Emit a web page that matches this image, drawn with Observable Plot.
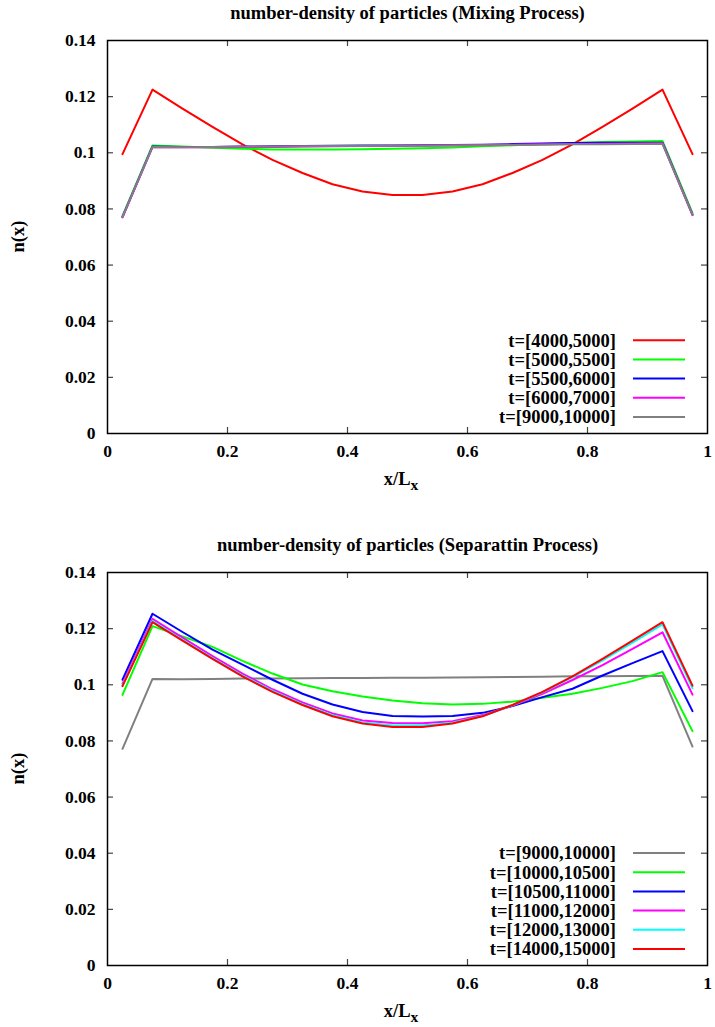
<!DOCTYPE html>
<html><head><meta charset="utf-8">
<script src="https://cdn.jsdelivr.net/npm/d3@7"></script>
<script src="https://cdn.jsdelivr.net/npm/@observablehq/plot@0.6"></script>
<style>
body{margin:0;background:#fff;}
#wrap{position:relative;width:715px;height:1027px;background:#fff;}
#wrap svg{position:absolute;left:0;}
</style></head><body><div id="wrap"></div>
<script>
// ---- data ----
const xPos = [0.025,0.075,0.125,0.175,0.225,0.275,0.325,0.375,0.425,0.475,0.525,0.575,0.625,0.675,0.725,0.775,0.825,0.875,0.925,0.975];
const xTicks = [0,0.2,0.4,0.6,0.8,1];
const xTickLabels = ["0","0.2","0.4","0.6","0.8","1"];
const yTicks = [0,0.02,0.04,0.06,0.08,0.1,0.12,0.14];
const yTickLabels = ["0","0.02","0.04","0.06","0.08","0.1","0.12","0.14"];

const mixTitle = "number-density of particles (Mixing Process)";
const mixNames = ["t=[4000,5000]","t=[5000,5500]","t=[5500,6000]","t=[6000,7000]","t=[9000,10000]"];
const mixColors = ["#ff0000","#00ff00","#0000ff","#ff00ff","#808080"];
const mix4000 = [0.0995,0.1225,0.1157,0.1092,0.1030,0.0975,0.0928,0.0888,0.0862,0.0850,0.0850,0.0862,0.0888,0.0928,0.0975,0.1030,0.1092,0.1157,0.1225,0.0995];
const mix5000 = [0.0775,0.1026,0.1022,0.1018,0.1014,0.1012,0.1012,0.1012,0.1013,0.1014,0.1016,0.1019,0.1023,0.1027,0.1031,0.1035,0.1038,0.1040,0.1042,0.0785];
const mix5500 = [0.0772,0.1022,0.1021,0.1021,0.1022,0.1023,0.1024,0.1025,0.1026,0.1026,0.1027,0.1028,0.1029,0.1031,0.1033,0.1035,0.1036,0.1036,0.1036,0.0780];
const mix6000 = [0.0770,0.1021,0.1020,0.1020,0.1021,0.1021,0.1022,0.1023,0.1024,0.1025,0.1026,0.1027,0.1028,0.1029,0.1030,0.1031,0.1032,0.1033,0.1034,0.0778];
const mix9000 = [0.0772,0.1021,0.1020,0.1021,0.1022,0.1022,0.1023,0.1024,0.1024,0.1025,0.1025,0.1026,0.1027,0.1028,0.1029,0.1030,0.1030,0.1031,0.1032,0.0780];

const sepTitle = "number-density of particles (Separattin Process)";
const sepNames = ["t=[9000,10000]","t=[10000,10500]","t=[10500,11000]","t=[11000,12000]","t=[12000,13000]","t=[14000,15000]"];
const sepColors = ["#808080","#00ff00","#0000ff","#ff00ff","#00ffff","#ff0000"];
const sep9000  = [0.0772,0.1021,0.1020,0.1021,0.1022,0.1022,0.1023,0.1024,0.1024,0.1025,0.1025,0.1026,0.1027,0.1028,0.1029,0.1030,0.1030,0.1031,0.1032,0.0780];
const sep10000 = [0.0964,0.1209,0.1172,0.1135,0.1085,0.1040,0.1001,0.0977,0.0958,0.0944,0.0934,0.0930,0.0932,0.0940,0.0954,0.0968,0.0989,0.1013,0.1045,0.0835];
const sep10500 = [0.1018,0.1253,0.1188,0.1125,0.1072,0.1018,0.0968,0.0930,0.0903,0.0889,0.0887,0.0889,0.0900,0.0924,0.0956,0.0986,0.1033,0.1077,0.1120,0.0906];
const sep11000 = [0.1004,0.1235,0.1168,0.1102,0.1040,0.0984,0.0937,0.0898,0.0873,0.0864,0.0863,0.0870,0.0892,0.0926,0.0968,0.1017,0.1070,0.1128,0.1187,0.0965];
const sep12000 = [0.0998,0.1227,0.1160,0.1095,0.1033,0.0978,0.0931,0.0892,0.0866,0.0855,0.0855,0.0865,0.0889,0.0927,0.0973,0.1027,0.1087,0.1150,0.1215,0.0988];
const sep14000 = [0.0995,0.1223,0.1157,0.1092,0.1030,0.0975,0.0928,0.0888,0.0862,0.0850,0.0850,0.0862,0.0888,0.0928,0.0975,0.1030,0.1092,0.1157,0.1223,0.0997];

// ---- drawing ----
const FONT = "'Liberation Serif', 'Times New Roman', serif";
const FS = 17.5;   // tick labels
const FT = 18.5;   // title, legend, axis labels

function panel(topOffset, title, names, colors, values) {
  const W = 715, H = 495, mt = 40, mb = 62, ml = 107, mr = 8;
  const frameH = H - mt - mb, frameW = W - ml - mr;
  const data = names.flatMap((n, i) => values[i].map((v, j) => ({series: n, x: xPos[j], y: v})));
  const fmtX = d => xTickLabels[xTicks.indexOf(d)];
  const fmtY = d => yTickLabels[yTicks.indexOf(d)];
  const svg = Plot.plot({
    width: W, height: H, marginTop: mt, marginBottom: mb, marginLeft: ml, marginRight: mr,
    style: {fontFamily: FONT, fontSize: FS + "px", fontWeight: "bold", color: "#000", background: "#fff", overflow: "visible"},
    x: {domain: [0, 1]},
    y: {domain: [0, 0.14]},
    color: {domain: names, range: colors},
    marks: [
      Plot.axisX({ticks: xTicks, tickSize: 0, tickPadding: 11, tickFormat: fmtX, label: null, fontSize: FS}),
      Plot.axisY({ticks: yTicks, tickSize: 0, tickPadding: 12, tickFormat: fmtY, label: null, fontSize: FS}),
      Plot.tickX(xTicks.slice(1, -1), {x: d => d, insetTop: frameH - 6, stroke: "#444", strokeWidth: 1.2}),
      Plot.tickX(xTicks.slice(1, -1), {x: d => d, insetBottom: frameH - 6, stroke: "#444", strokeWidth: 1.2}),
      Plot.tickY(yTicks.slice(1, -1), {y: d => d, insetRight: frameW - 6, stroke: "#444", strokeWidth: 1.2}),
      Plot.tickY(yTicks.slice(1, -1), {y: d => d, insetLeft: frameW - 6, stroke: "#444", strokeWidth: 1.2}),
      Plot.line(data, {x: "x", y: "y", z: "series", stroke: "series", strokeWidth: 2}),
      Plot.frame({stroke: "#000", strokeWidth: 1.5}),
      Plot.text([title], {frameAnchor: "top", dy: -22, lineAnchor: "bottom", fontSize: FT, fontWeight: "bold"})
    ]
  });
  svg.style.top = topOffset + "px";
  const s = d3.select(svg);
  // y label
  s.append("text").attr("transform", "translate(24," + (mt + frameH / 2) + ") rotate(-90)")
    .attr("text-anchor", "middle").attr("font-family", FONT).attr("font-size", FT).attr("font-weight", "bold")
    .attr("fill", "#000").text("n(x)");
  // x label
  const xl = s.append("text").attr("x", ml + frameW / 2 - 6).attr("y", 485)
    .attr("text-anchor", "middle").attr("font-family", FONT).attr("font-size", FT).attr("font-weight", "bold").attr("fill", "#000");
  xl.append("tspan").text("x/L");
  xl.append("tspan").attr("dy", 5).attr("font-size", FT - 3).text("x");
  // legend
  const rowH = 19.2, n = names.length;
  const lg = s.append("g");
  names.forEach((nm, i) => {
    const y = mt + frameH - 16 - (n - 1 - i) * rowH;
    lg.append("text").attr("x", 616).attr("y", y).attr("dy", "0.35em").attr("text-anchor", "end")
      .attr("font-family", FONT).attr("font-size", FT).attr("font-weight", "bold").attr("fill", "#000").text(nm);
    lg.append("line").attr("x1", 633).attr("x2", 685).attr("y1", y).attr("y2", y)
      .attr("stroke", colors[i]).attr("stroke-width", 2);
  });
  document.getElementById("wrap").appendChild(svg);
}

panel(0, mixTitle, mixNames, mixColors, [mix4000, mix5000, mix5500, mix6000, mix9000]);
panel(532, sepTitle, sepNames, sepColors, [sep9000, sep10000, sep10500, sep11000, sep12000, sep14000]);
</script></body></html>
